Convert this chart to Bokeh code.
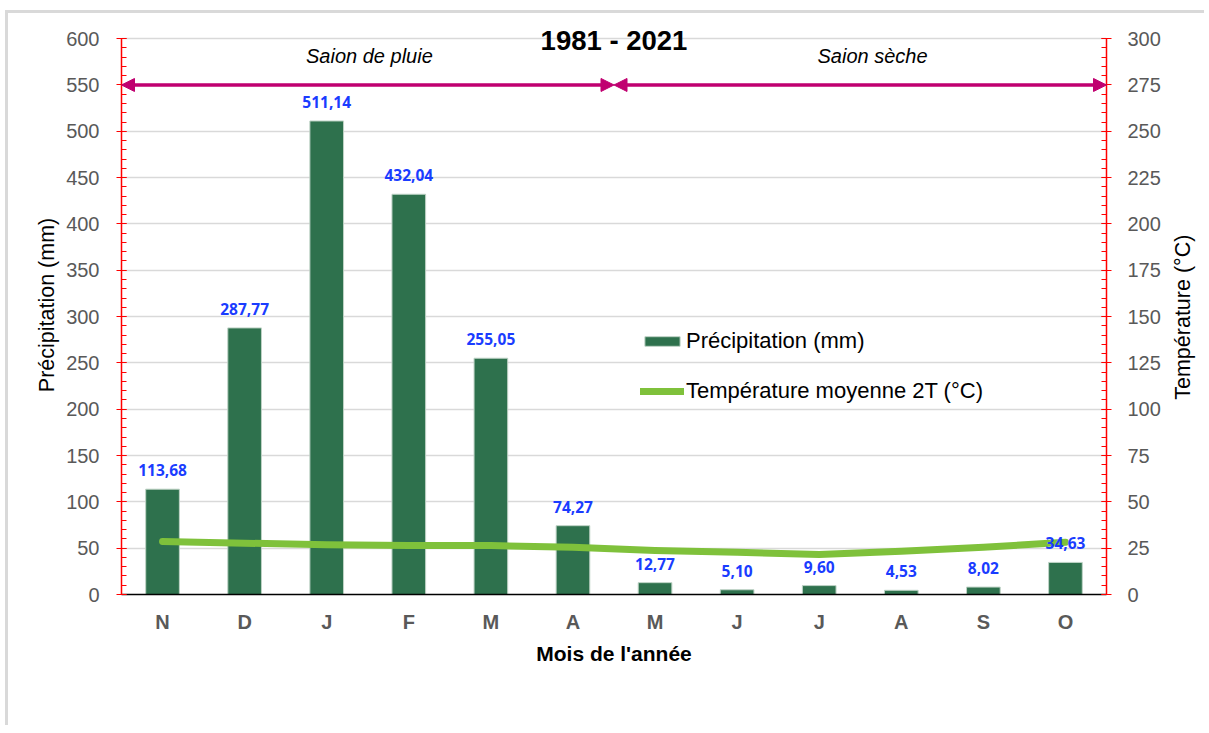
import math
from bokeh.plotting import figure
from bokeh.layouts import row
from bokeh.models import (Range1d, LinearAxis, SingleIntervalTicker, FixedTicker, Legend, LegendItem,
                          Arrow, NormalHead, Label, ColumnDataSource)
from bokeh.core.properties import value
from bokeh.embed import file_html
from bokeh.resources import INLINE

months = ["N", "D", "J", "F", "M", "A", "M", "J", "J", "A", "S", "O"]
precip = [113.68, 287.77, 511.14, 432.04, 255.05, 74.27, 12.77, 5.10, 9.60, 4.53, 8.02, 34.63]
temp = [28.6, 27.7, 26.8, 26.5, 26.4, 25.5, 23.8, 22.8, 21.6, 23.4, 25.5, 28.2]
title_text = "1981 - 2021"
season1 = "Saion de pluie"
season2 = "Saion sèche"
right_title = "Température (°C)"

xs = list(range(len(months)))
labels = [f"{v:.2f}".replace(".", ",") for v in precip]
src = ColumnDataSource(dict(x=xs, p=precip, t=temp, lab=labels))

FONT = "Liberation Sans"
GREY = "#595959"
RED = "#FF0000"
MAG = "#C00070"
H = 712

p = figure(width=1160, height=H, output_backend="svg", toolbar_location=None,
           x_range=Range1d(-0.5, 11.5), y_range=Range1d(0, 625),
           min_border_left=113, min_border_right=62, min_border_top=2, min_border_bottom=131)
p.extra_y_ranges = {"temp": Range1d(0, 312.5)}
p.outline_line_color = None
p.background_fill_color = "white"
p.border_fill_color = "white"

# x axis
xa = p.xaxis[0]
xa.ticker = FixedTicker(ticks=xs)
xa.major_label_overrides = {i: m for i, m in enumerate(months)}
xa.major_tick_in = 0
xa.major_tick_out = 0
xa.minor_tick_line_color = None
xa.axis_line_color = "black"
xa.axis_line_width = 1.5
xa.major_label_text_font = FONT
xa.major_label_text_font_style = "bold"
xa.major_label_text_font_size = "20px"
xa.major_label_text_color = GREY
xa.major_label_standoff = 16
xa.axis_label = "Mois de l'année"
xa.axis_label_text_font = FONT
xa.axis_label_text_font_style = "bold"
xa.axis_label_text_font_size = "21px"
xa.axis_label_text_color = "black"
xa.axis_label_standoff = 6

# left axis
ya = p.yaxis[0]
ya.ticker = SingleIntervalTicker(interval=50, num_minor_ticks=5)
ya.bounds = (0, 600)
ya.axis_line_color = RED
ya.axis_line_width = 1.5
ya.major_tick_line_color = RED
ya.minor_tick_line_color = RED
ya.major_tick_in = 5
ya.major_tick_out = 5
ya.minor_tick_in = 5
ya.minor_tick_out = 0
ya.major_label_text_font = FONT
ya.major_label_text_font_size = "20px"
ya.major_label_text_color = GREY
ya.major_label_standoff = 17
ya.axis_label = "Précipitation (mm)"
ya.axis_label_text_font = FONT
ya.axis_label_text_font_style = "normal"
ya.axis_label_text_font_size = "21.5px"
ya.axis_label_text_color = "black"
ya.axis_label_standoff = 4

# right axis
ra = LinearAxis(y_range_name="temp", ticker=SingleIntervalTicker(interval=25, num_minor_ticks=5))
ra.bounds = (0, 300)
ra.axis_line_color = RED
ra.axis_line_width = 1.5
ra.major_tick_line_color = RED
ra.minor_tick_line_color = RED
ra.major_tick_in = 5
ra.major_tick_out = 5
ra.minor_tick_in = 5
ra.minor_tick_out = 0
ra.major_label_text_font = FONT
ra.major_label_text_font_size = "20px"
ra.major_label_text_color = GREY
ra.major_label_standoff = 16
p.add_layout(ra, "right")

p.xgrid.grid_line_color = None
p.ygrid.grid_line_color = "#D9D9D9"
p.ygrid.grid_line_width = 1.5
p.ygrid.ticker = SingleIntervalTicker(interval=50)
p.ygrid.bounds = (0, 600)

bars = p.vbar(x="x", top="p", width=0.41, source=src, fill_color="#2E714D",
              line_color="#BFD3C6", line_width=1)
line = p.line(x="x", y="t", source=src, y_range_name="temp", line_color="#7FC13B",
              line_width=7, line_cap="round", line_join="round")

p.text(x="x", y="p", text="lab", source=src, y_offset=-19, text_align="center",
       text_baseline="middle", text_font=value("Noto Sans"), text_font_style="bold",
       text_font_size="15.5px", text_color="#1A3CFF")

# season arrows
for (a, b) in [(-0.5, 5.5), (5.5, 11.5)]:
    p.add_layout(Arrow(x_start=a, y_start=550, x_end=b, y_end=550, line_color=MAG, line_width=3.5,
                       start=NormalHead(size=13, fill_color=MAG, line_color=MAG),
                       end=NormalHead(size=13, fill_color=MAG, line_color=MAG)))

p.add_layout(Label(x=2.52, y=581.5, text=season1, text_font=FONT, text_font_style="italic",
                   text_font_size="20px", text_align="center", text_baseline="middle", text_color="black"))
p.add_layout(Label(x=8.65, y=581.5, text=season2, text_font=FONT, text_font_style="italic",
                   text_font_size="20px", text_align="center", text_baseline="middle", text_color="black"))
p.add_layout(Label(x=5.5, y=597.5, text=title_text, text_font=FONT, text_font_style="bold",
                   text_font_size="27.5px", text_align="center", text_baseline="middle", text_color="black"))

legend = Legend(items=[LegendItem(label="Précipitation (mm)", renderers=[bars]),
                       LegendItem(label="Température moyenne 2T (°C)", renderers=[line])],
                location=(519, 190), background_fill_alpha=0, border_line_color=None,
                label_text_font=FONT, label_text_font_size="22px", label_text_color="black",
                glyph_width=44, glyph_height=12, label_height=24, spacing=24, label_standoff=2,
                padding=10, margin=0)
p.add_layout(legend)

# narrow side panel holding the right-axis title (reads bottom-to-top)
q = figure(width=36, height=H, output_backend="svg", toolbar_location=None,
           x_range=Range1d(0, 36), y_range=Range1d(0, H), x_axis_type=None, y_axis_type=None,
           min_border=0)
q.outline_line_color = None
q.border_fill_color = "white"
q.background_fill_color = "white"
q.add_layout(Label(x=14, y=341, text=right_title, angle=math.pi / 2, text_font=FONT,
                   text_font_size="21.5px", text_align="center", text_baseline="middle",
                   text_color="black"))

lay = row(p, q, spacing=0,
          styles={"margin-left": "5px", "margin-top": "10px",
                  "border-left": "3px solid #D9D9D9", "border-top": "3px solid #D9D9D9"})

open("out.html", "w").write(file_html(lay, INLINE))
